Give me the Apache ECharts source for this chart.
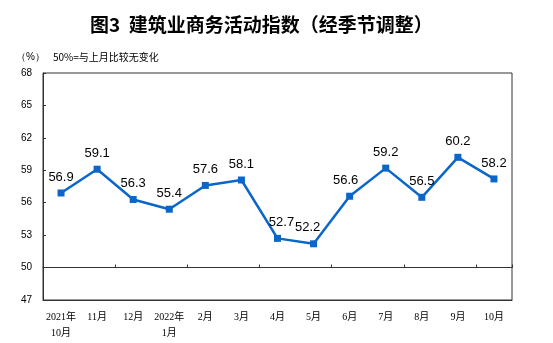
<!DOCTYPE html>
<html>
<head>
<meta charset="utf-8">
<script src="https://cdn.jsdelivr.net/npm/echarts@6/dist/echarts.min.js"></script>
<style>
  html, body { margin: 0; padding: 0; background: #fff; }
  #chart { width: 553px; height: 343px; }
</style>
</head>
<body>
<div id="chart"></div>
<script>
// Months along the bottom axis
const months = ['2021年\n10月', '11月', '12月', '2022年\n1月', '2月', '3月', '4月', '5月', '6月', '7月', '8月', '9月', '10月'];
// Construction business activity index (seasonally adjusted)
const indexValues = [56.9, 59.1, 56.3, 55.4, 57.6, 58.1, 52.7, 52.2, 56.6, 59.2, 56.5, 60.2, 58.2];
// Horizontal nudges for value labels that would otherwise crowd each other
const labelShift = [0, 0, 0, 0, 0, 0, 4, -6, -4, 0, 0, 0, 0];
// Value axis range
const yMin = 47, yMax = 68, yStep = 3;
const baseline = 50;

const chart = echarts.init(document.getElementById('chart'), null, { renderer: 'canvas' });

const gridTop = 73, gridBottom = 43;
const gridHeight = 343 - gridTop - gridBottom;
const baselineOffset = -gridHeight * (baseline - yMin) / (yMax - yMin);

chart.setOption({
  animation: false,
  title: {
    text: '图3  建筑业商务活动指数（经季节调整）',
    left: 85,
    top: 10,
    textStyle: { fontSize: 19, fontWeight: 'bold', color: '#000', fontFamily: '"Noto Sans CJK SC", sans-serif' }
  },
  graphic: [
    { type: 'text', left: 16, top: 52, style: { text: '（%）', fontSize: 10, fill: '#000', font: '10px "Noto Sans CJK SC", sans-serif' } },
    { type: 'text', left: 53, top: 52, style: { text: '50%=与上月比较无变化', fill: '#000', font: '10px "Noto Sans CJK SC", sans-serif' } }
  ],
  grid: {
    left: 43, right: 41, top: gridTop, bottom: gridBottom,
    show: true, borderColor: '#333', borderWidth: 1, backgroundColor: 'transparent'
  },
  xAxis: [
    {
      type: 'category',
      data: months,
      position: 'bottom',
      axisLine: { show: true, lineStyle: { color: '#333', width: 1 } },
      axisTick: { show: false },
      axisLabel: {
        interval: 0, margin: 9, fontSize: 10, lineHeight: 16, color: '#000',
        fontFamily: '"Liberation Serif", "Noto Sans CJK SC", serif'
      },
      splitLine: { show: false }
    },
    {
      // Reference line at 50 with divider ticks between months
      type: 'category',
      data: months,
      position: 'bottom',
      offset: baselineOffset,
      axisLine: { show: true, lineStyle: { color: '#333', width: 1 } },
      axisTick: { show: true, inside: true, length: 3, lineStyle: { color: '#333' } },
      axisLabel: { show: false },
      splitLine: { show: false }
    }
  ],
  yAxis: {
    type: 'value',
    min: yMin, max: yMax, interval: yStep,
    axisLine: { show: true, lineStyle: { color: '#333', width: 1 } },
    axisTick: { show: true, inside: true, length: 3, lineStyle: { color: '#333' } },
    axisLabel: { fontSize: 10, color: '#000', margin: 11, fontFamily: '"Liberation Sans", Arial, sans-serif' },
    splitLine: { show: false }
  },
  series: [{
    type: 'line',
    xAxisIndex: 0,
    data: indexValues.map((v, i) => ({
      value: v,
      label: { offset: [labelShift[i], 0] }
    })),
    symbol: 'rect',
    symbolSize: 7,
    lineStyle: { color: '#0a66c8', width: 2.5 },
    itemStyle: { color: '#0a66c8' },
    label: {
      show: true, position: 'top', distance: 6,
      fontSize: 13, color: '#000',
      fontFamily: '"Liberation Sans", Arial, sans-serif',
      formatter: p => p.value.toFixed(1)
    }
  }]
});
</script>
</body>
</html>
